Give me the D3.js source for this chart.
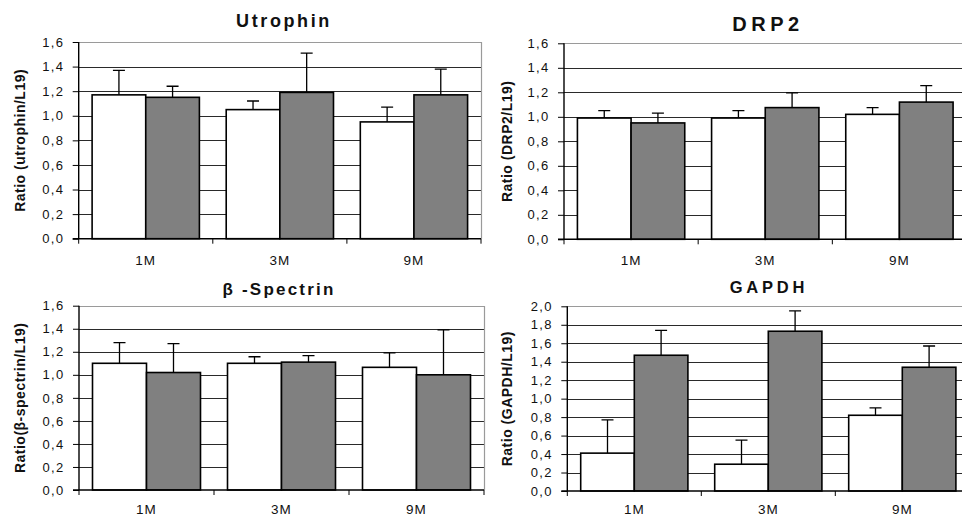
<!DOCTYPE html>
<html>
<head>
<meta charset="utf-8">
<script src="https://cdn.jsdelivr.net/npm/d3@7"></script>
<style>
  html, body { margin: 0; padding: 0; background: #fff; }
  svg { display: block; font-family: Arial, "Liberation Sans", sans-serif; }
</style>
</head>
<body>
<svg id="chart" width="962" height="518"></svg>
<script>
// ---- data ----
const categories = ["1M", "3M", "9M"];
const seriesNames = ["control", "mutant"];

const utrophinWhite = [1.17, 1.05, 0.95];
const utrophinWhiteErr = [0.20, 0.07, 0.12];
const utrophinGray = [1.15, 1.19, 1.17];
const utrophinGrayErr = [0.09, 0.32, 0.21];

const drp2White = [0.99, 0.99, 1.02];
const drp2WhiteErr = [0.06, 0.06, 0.055];
const drp2Gray = [0.95, 1.075, 1.12];
const drp2GrayErr = [0.08, 0.12, 0.135];

const spectrinWhite = [1.10, 1.10, 1.065];
const spectrinWhiteErr = [0.18, 0.057, 0.125];
const spectrinGray = [1.02, 1.11, 1.00];
const spectrinGrayErr = [0.25, 0.056, 0.39];

const gapdhWhite = [0.41, 0.29, 0.82];
const gapdhWhiteErr = [0.36, 0.26, 0.08];
const gapdhGray = [1.47, 1.73, 1.34];
const gapdhGrayErr = [0.27, 0.22, 0.23];

const ticks16 = [0, 0.2, 0.4, 0.6, 0.8, 1.0, 1.2, 1.4, 1.6];
const ticks20 = [0, 0.2, 0.4, 0.6, 0.8, 1.0, 1.2, 1.4, 1.6, 1.8, 2.0];

const panels = [
  { title: "Utrophin", yTitle: "Ratio (utrophin/L19)", white: utrophinWhite, whiteErr: utrophinWhiteErr, gray: utrophinGray, grayErr: utrophinGrayErr, ticks: ticks16,
    x0: 78.7, x1: 481, yTop: 42, yBot: 238.7, titleX: 284, titleY: 26.5, titleSize: 18, titleLs: 2.6, yTitleX: 25, xLabelY: 265 },
  { title: "DRP2", yTitle: "Ratio (DRP2/L19)", white: drp2White, whiteErr: drp2WhiteErr, gray: drp2Gray, grayErr: drp2GrayErr, ticks: ticks16,
    x0: 564, x1: 966.5, yTop: 43.3, yBot: 239.3, titleX: 768, titleY: 30.5, titleSize: 20, titleLs: 4.5, yTitleX: 512, xLabelY: 265 },
  { title: "β -Spectrin", yTitle: "Ratio(β-spectrin/L19)", white: spectrinWhite, whiteErr: spectrinWhiteErr, gray: spectrinGray, grayErr: spectrinGrayErr, ticks: ticks16,
    x0: 79, x1: 484, yTop: 305.7, yBot: 490, titleX: 279, titleY: 295, titleSize: 17, titleLs: 2.2, yTitleX: 25, xLabelY: 514 },
  { title: "GAPDH", yTitle: "Ratio (GAPDH/L19)", white: gapdhWhite, whiteErr: gapdhWhiteErr, gray: gapdhGray, grayErr: gapdhGrayErr, ticks: ticks20,
    x0: 567.3, x1: 969.3, yTop: 306.3, yBot: 491, titleX: 769, titleY: 293, titleSize: 16.5, titleLs: 3.8, yTitleX: 512, xLabelY: 514 }
];

const svg = d3.select("#chart");
const fmt = v => d3.format(".1f")(v).replace(".", ",");

panels.forEach(p => {
  const g = svg.append("g");
  const yMax = p.ticks[p.ticks.length - 1];
  const y = d3.scaleLinear().domain([0, yMax]).range([p.yBot, p.yTop]);
  const xC = d3.scaleBand().domain(categories).range([p.x0, p.x1]).paddingInner(0).paddingOuter(0);
  const xS = d3.scaleBand().domain(seriesNames).range([0, xC.bandwidth()]).paddingInner(0).paddingOuter(0.25);

  // gridlines
  g.append("g").selectAll("line").data(p.ticks.slice(1, -1)).join("line")
    .attr("x1", p.x0).attr("x2", p.x1)
    .attr("y1", d => Math.round(y(d)) + 0.5).attr("y2", d => Math.round(y(d)) + 0.5)
    .attr("stroke", "#2a2a2a").attr("stroke-width", 1);

  // plot border top/right
  g.append("path")
    .attr("d", `M${p.x0},${Math.round(p.yTop) + 0.5}H${Math.round(p.x1) + 0.5}V${p.yBot}`)
    .attr("fill", "none").attr("stroke", "#9a9a9a").attr("stroke-width", 1.2);

  // bars
  const rows = categories.map((c, i) => ({
    cat: c,
    vals: [
      { s: "control", v: p.white[i], e: p.whiteErr[i], fill: "#ffffff" },
      { s: "mutant", v: p.gray[i], e: p.grayErr[i], fill: "#808080" }
    ]
  }));
  const grp = g.append("g").selectAll("g").data(rows).join("g")
    .attr("transform", d => `translate(${xC(d.cat)},0)`);

  // error bars (upper only)
  grp.selectAll("path.err").data(d => d.vals).join("path").attr("class", "err")
    .attr("d", d => {
      const cx = xS(d.s) + xS.bandwidth() / 2;
      const yt = y(d.v + d.e);
      return `M${cx},${y(d.v)}V${yt}M${cx - 6},${yt}H${cx + 6}`;
    })
    .attr("fill", "none").attr("stroke", "#000").attr("stroke-width", 1.3);

  grp.selectAll("rect").data(d => d.vals).join("rect")
    .attr("x", d => xS(d.s))
    .attr("width", xS.bandwidth())
    .attr("y", d => y(d.v))
    .attr("height", d => y(0) - y(d.v))
    .attr("fill", d => d.fill)
    .attr("stroke", "#000").attr("stroke-width", 1.6);

  // y axis
  const yAxis = d3.axisLeft(y).tickValues(p.ticks).tickSize(6).tickPadding(0).tickFormat(() => "");
  const ya = g.append("g").attr("transform", `translate(${p.x0},0)`).call(yAxis);
  ya.select(".domain").attr("stroke", "#000").attr("stroke-width", 1.4).attr("d", `M0,${p.yTop}V${p.yBot}`);
  ya.selectAll(".tick line").attr("stroke", "#000");
  g.append("g").selectAll("text").data(p.ticks).join("text")
    .attr("x", p.x0 - 14.5)
    .attr("y", d => y(d))
    .attr("dy", "0.36em")
    .attr("text-anchor", "end")
    .attr("font-size", 13)
    .attr("letter-spacing", 1.3)
    .attr("fill", "#111")
    .text(fmt);

  // x axis
  const edges = [p.x0].concat(categories.map(c => xC(c) + xC.bandwidth()));
  g.append("line").attr("x1", p.x0 - 6).attr("x2", p.x1).attr("y1", p.yBot).attr("y2", p.yBot)
    .attr("stroke", "#000").attr("stroke-width", 1.4);
  g.append("g").selectAll("line").data(edges).join("line")
    .attr("x1", d => d).attr("x2", d => d).attr("y1", p.yBot).attr("y2", p.yBot + 5)
    .attr("stroke", "#000").attr("stroke-width", 1);
  g.append("g").selectAll("text").data(categories).join("text")
    .attr("x", d => xC(d) + xC.bandwidth() / 2)
    .attr("y", p.xLabelY)
    .attr("text-anchor", "middle")
    .attr("font-size", 13.5)
    .attr("letter-spacing", 1)
    .attr("fill", "#111")
    .text(d => d);

  // title
  g.append("text")
    .attr("x", p.titleX).attr("y", p.titleY)
    .attr("text-anchor", "middle")
    .attr("font-size", p.titleSize)
    .attr("font-weight", "bold")
    .attr("letter-spacing", p.titleLs)
    .attr("fill", "#111")
    .text(p.title);

  // y title
  const cy = (p.yTop + p.yBot) / 2;
  g.append("text")
    .attr("transform", `translate(${p.yTitleX},${cy}) rotate(-90)`)
    .attr("text-anchor", "middle")
    .attr("font-size", 14)
    .attr("font-weight", "bold")
    .attr("letter-spacing", 0.5)
    .attr("fill", "#111")
    .text(p.yTitle);
});
</script>
</body>
</html>
